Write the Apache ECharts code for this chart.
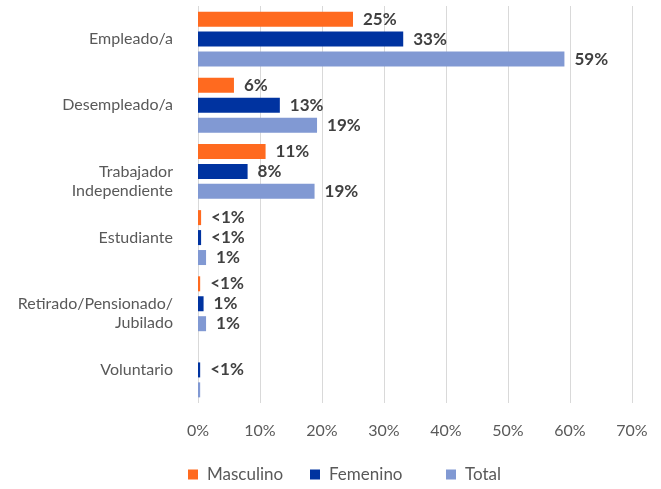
<!DOCTYPE html>
<html>
<head>
<meta charset="utf-8">
<script src="https://cdn.jsdelivr.net/npm/echarts@6/dist/echarts.min.js"></script>
<style>
  html, body { margin: 0; padding: 0; background: #fff; }
  #chart { width: 661px; height: 489px; }
</style>
</head>
<body>
<div id="chart"></div>
<script>
// categorias (de arriba a abajo)
const categories = [
  'Empleado/a',
  'Desempleado/a',
  'Trabajador\nIndependiente',
  'Estudiante',
  'Retirado/Pensionado/\nJubilado',
  'Voluntario'
];
// valores en %
const masculino = [25, 5.8, 10.9, 0.5, 0.35, 0];
const femenino = [33.1, 13.2, 8, 0.5, 0.9, 0.35];
const total = [59.1, 19.2, 18.8, 1.3, 1.3, 0.35];
// etiquetas tal como aparecen
const masculinoLabels = ['25%', '6%', '11%', '<1%', '<1%', ''];
const femeninoLabels = ['33%', '13%', '8%', '<1%', '1%', '<1%'];
const totalLabels = ['59%', '19%', '19%', '1%', '1%', ''];
const xTicks = [0, 10, 20, 30, 40, 50, 60, 70];

const labelFont = {
  show: true,
  position: 'right',
  distance: 10,
  color: '#404040',
  fontFamily: 'Lato',
  fontWeight: 'bold',
  fontSize: 17
};

function makeSeries(name, values, labels, color) {
  return {
    type: 'bar',
    name: name,
    barWidth: 15,
    barGap: '33%',
    itemStyle: { color: color },
    data: values,
    label: Object.assign({}, labelFont, {
      formatter: function (p) { return labels[p.dataIndex]; }
    })
  };
}

function makeLegend(name, left) {
  return {
    left: left,
    top: 461,
    icon: 'rect',
    itemWidth: 10,
    itemHeight: 10,
    itemGap: 6,
    textStyle: { color: '#595959', fontSize: 17, fontFamily: 'Lato', padding: [0, 0, 0, 4] },
    data: [name]
  };
}

const option = {
  animation: false,
  textStyle: { fontFamily: 'Lato' },
  grid: {
    left: 198,
    right: 29,
    top: 6,
    bottom: 86
  },
  legend: [
    makeLegend('Masculino', 183),
    makeLegend('Femenino', 305),
    makeLegend('Total', 441)
  ],
  xAxis: {
    type: 'value',
    min: xTicks[0],
    max: xTicks[xTicks.length - 1],
    interval: 10,
    axisLine: { show: false },
    axisTick: { show: false },
    splitLine: { lineStyle: { color: '#d9d9d9', width: 1 } },
    axisLabel: {
      color: '#595959',
      fontSize: 16,
      margin: 20,
      formatter: '{value}%'
    }
  },
  yAxis: {
    type: 'category',
    inverse: true,
    data: categories,
    axisLine: { show: false },
    axisTick: { show: false },
    axisLabel: {
      color: '#595959',
      fontSize: 16,
      margin: 25,
      lineHeight: 19,
      align: 'right',
      // la primera linea queda centrada en la categoria
      formatter: function (v) { return v.indexOf('\n') >= 0 ? '\n' + v : v; }
    }
  },
  series: [
    makeSeries('Masculino', masculino, masculinoLabels, '#FF6A1F'),
    makeSeries('Femenino', femenino, femeninoLabels, '#0033A0'),
    makeSeries('Total', total, totalLabels, '#8199D3')
  ]
};

const chart = echarts.init(document.getElementById('chart'));
chart.setOption(option);
window.addEventListener('resize', function () { chart.resize(); });
</script>
</body>
</html>
